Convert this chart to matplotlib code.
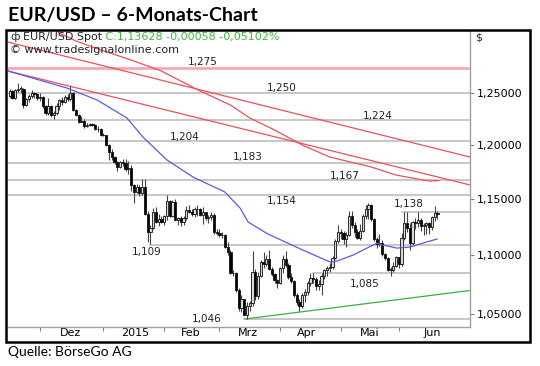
import matplotlib
matplotlib.use('Agg')
import matplotlib.pyplot as plt
from matplotlib.patches import Rectangle
from matplotlib.ticker import FixedLocator, FixedFormatter, NullLocator, NullFormatter

# ------------------- data: EUR/USD daily bars, 14 Nov 2014 - 19 Jun 2015 -------------------
opens = [1.2475, 1.2525, 1.2450, 1.2535, 1.2545, 1.2545, 1.2390, 1.2440, 1.2470, 1.2505, 1.2495,
         1.2450, 1.2465, 1.2380, 1.2310, 1.2380, 1.2290, 1.2305, 1.2380, 1.2430, 1.2410, 1.2460, 1.2440,
         1.2500, 1.2340, 1.2290, 1.2225, 1.2230, 1.2180, 1.2190, 1.2200, 1.2190, 1.2155, 1.2150,
         1.2100, 1.2095, 1.2000, 1.1935, 1.1890, 1.1840, 1.1795, 1.1840, 1.1835, 1.1775, 1.1780, 1.1630,
         1.1565, 1.1610, 1.1550, 1.1605, 1.1365, 1.1205, 1.1240, 1.1380, 1.1290, 1.1320,
         1.1290, 1.1345, 1.1480, 1.1345, 1.1475, 1.1315, 1.1325, 1.1290, 1.1330, 1.1400, 1.1385, 1.1365,
         1.1410, 1.1405, 1.1355, 1.1380, 1.1330, 1.1340, 1.1360, 1.1200,
         1.1195, 1.1180, 1.1175, 1.1075, 1.1030, 1.0845, 1.0850, 1.0700, 1.0550, 1.0630, 1.0495, 1.0570,
         1.0595, 1.0860, 1.0655, 1.0820, 1.0940, 1.0925, 1.0965, 1.0885, 1.0840, 1.0790,
         1.0760, 1.0890, 1.0970, 1.0920, 1.0810, 1.0780, 1.0660, 1.0600, 1.0565, 1.0665, 1.0685, 1.0765,
         1.0805, 1.0800, 1.0735, 1.0750, 1.0825, 1.0870, 1.0890, 1.0900, 1.0980, 1.1125,
         1.1200, 1.1195, 1.1145, 1.1180, 1.1345, 1.1270, 1.1200, 1.1155, 1.1215, 1.1350, 1.1405, 1.1450,
         1.1320, 1.1140, 1.1095, 1.1105, 1.1010, 1.0980, 1.0875, 1.0875, 1.0905,
         1.0985, 1.0925, 1.1150, 1.1280, 1.1240, 1.1110, 1.1290, 1.1285, 1.1310, 1.1255, 1.1265, 1.1280,
         1.1245, 1.1340, 1.1369]
highs = [1.2545, 1.2530, 1.2545, 1.2600, 1.2575, 1.2550, 1.2450, 1.2490, 1.2530, 1.2510, 1.2500,
         1.2500, 1.2470, 1.2390, 1.2455, 1.2390, 1.2325, 1.2400, 1.2445, 1.2465, 1.2485, 1.2490, 1.2570,
         1.2515, 1.2350, 1.2300, 1.2275, 1.2245, 1.2215, 1.2210, 1.2215, 1.2200, 1.2180, 1.2165,
         1.2110, 1.2100, 1.2010, 1.1960, 1.1900, 1.1850, 1.1850, 1.1865, 1.1870, 1.1850, 1.1810, 1.1640,
         1.1640, 1.1630, 1.1680, 1.1680, 1.1390, 1.1270, 1.1420, 1.1425, 1.1365, 1.1350,
         1.1360, 1.1535, 1.1490, 1.1495, 1.1500, 1.1340, 1.1345, 1.1345, 1.1440, 1.1450, 1.1410, 1.1430,
         1.1445, 1.1415, 1.1430, 1.1385, 1.1360, 1.1385, 1.1375, 1.1235,
         1.1230, 1.1200, 1.1185, 1.1115, 1.1045, 1.0870, 1.0860, 1.0720, 1.0665, 1.0630, 1.0600, 1.0610,
         1.1040, 1.0885, 1.0855, 1.0960, 1.1030, 1.1000, 1.1050, 1.0900, 1.0850, 1.0800,
         1.0900, 1.1000, 1.1035, 1.0935, 1.0850, 1.0790, 1.0680, 1.0625, 1.0680, 1.0710, 1.0780, 1.0850,
         1.0845, 1.0815, 1.0790, 1.0850, 1.0885, 1.0910, 1.0930, 1.0990, 1.1145, 1.1270,
         1.1230, 1.1215, 1.1200, 1.1390, 1.1390, 1.1290, 1.1230, 1.1275, 1.1365, 1.1445, 1.1467, 1.1455,
         1.1325, 1.1160, 1.1190, 1.1130, 1.1020, 1.0985, 1.0900, 1.0940, 1.0990,
         1.0985, 1.1195, 1.1380, 1.1385, 1.1280, 1.1300, 1.1330, 1.1385, 1.1325, 1.1280, 1.1290, 1.1295,
         1.1350, 1.1435, 1.1390]
lows = [1.2455, 1.2440, 1.2440, 1.2510, 1.2500, 1.2360, 1.2380, 1.2410, 1.2450, 1.2455, 1.2430,
        1.2420, 1.2360, 1.2290, 1.2290, 1.2270, 1.2245, 1.2290, 1.2340, 1.2390, 1.2400, 1.2420, 1.2420,
        1.2330, 1.2280, 1.2215, 1.2220, 1.2165, 1.2170, 1.2180, 1.2180, 1.2140, 1.2120, 1.2090,
        1.2085, 1.1995, 1.1860, 1.1860, 1.1820, 1.1755, 1.1780, 1.1800, 1.1755, 1.1725, 1.1570, 1.1460,
        1.1555, 1.1530, 1.1540, 1.1360, 1.1115, 1.1100, 1.1230, 1.1280, 1.1260, 1.1280,
        1.1270, 1.1315, 1.1340, 1.1340, 1.1310, 1.1270, 1.1260, 1.1270, 1.1310, 1.1370, 1.1345, 1.1335,
        1.1350, 1.1345, 1.1275, 1.1310, 1.1280, 1.1310, 1.1190, 1.1175,
        1.1160, 1.1150, 1.1065, 1.1000, 1.0840, 1.0820, 1.0690, 1.0530, 1.0520, 1.0490, 1.0460, 1.0530,
        1.0570, 1.0615, 1.0625, 1.0810, 1.0890, 1.0910, 1.0870, 1.0820, 1.0760, 1.0720,
        1.0750, 1.0850, 1.0900, 1.0800, 1.0760, 1.0640, 1.0580, 1.0525, 1.0550, 1.0600, 1.0660, 1.0735,
        1.0760, 1.0705, 1.0700, 1.0665, 1.0800, 1.0820, 1.0855, 1.0880, 1.0970, 1.1110,
        1.1140, 1.1100, 1.1070, 1.1170, 1.1240, 1.1160, 1.1140, 1.1135, 1.1200, 1.1320, 1.1320, 1.1300,
        1.1125, 1.1060, 1.1085, 1.0990, 1.0960, 1.0865, 1.0820, 1.0860, 1.0900,
        1.0890, 1.0905, 1.1130, 1.1200, 1.1050, 1.1090, 1.1230, 1.1250, 1.1210, 1.1180, 1.1190, 1.1190,
        1.1220, 1.1300, 1.1320]
closes = [1.2525, 1.2450, 1.2535, 1.2545, 1.2545, 1.2390, 1.2440, 1.2470, 1.2505, 1.2495, 1.2450,
          1.2465, 1.2380, 1.2310, 1.2380, 1.2290, 1.2305, 1.2380, 1.2430, 1.2410, 1.2460, 1.2440, 1.2500,
          1.2340, 1.2290, 1.2225, 1.2230, 1.2180, 1.2190, 1.2200, 1.2190, 1.2155, 1.2150, 1.2100,
          1.2095, 1.2000, 1.1935, 1.1890, 1.1840, 1.1795, 1.1840, 1.1835, 1.1775, 1.1780, 1.1630, 1.1565,
          1.1610, 1.1550, 1.1605, 1.1365, 1.1205, 1.1240, 1.1380, 1.1290, 1.1320, 1.1290,
          1.1345, 1.1480, 1.1345, 1.1475, 1.1315, 1.1325, 1.1290, 1.1330, 1.1400, 1.1385, 1.1365, 1.1410,
          1.1405, 1.1355, 1.1380, 1.1330, 1.1340, 1.1360, 1.1200, 1.1195,
          1.1180, 1.1175, 1.1075, 1.1030, 1.0845, 1.0850, 1.0700, 1.0550, 1.0630, 1.0495, 1.0570, 1.0595,
          1.0860, 1.0655, 1.0820, 1.0940, 1.0925, 1.0965, 1.0885, 1.0840, 1.0790, 1.0760,
          1.0890, 1.0970, 1.0920, 1.0810, 1.0780, 1.0660, 1.0600, 1.0565, 1.0665, 1.0685, 1.0765, 1.0805,
          1.0800, 1.0735, 1.0750, 1.0825, 1.0870, 1.0890, 1.0900, 1.0980, 1.1125, 1.1200,
          1.1195, 1.1145, 1.1180, 1.1345, 1.1270, 1.1200, 1.1155, 1.1215, 1.1350, 1.1405, 1.1450, 1.1320,
          1.1140, 1.1095, 1.1105, 1.1010, 1.0980, 1.0875, 1.0875, 1.0905, 1.0985,
          1.0925, 1.1150, 1.1280, 1.1240, 1.1110, 1.1290, 1.1285, 1.1310, 1.1255, 1.1265, 1.1280, 1.1245,
          1.1340, 1.1369, 1.1363]

# moving averages (bar index / price)
ma50_x = [-0.6, 20.8, 31.7, 42.5, 48.3, 57.0, 66.4, 78.0, 83.5, 86.4, 93.6, 106.3, 116.1, 118.6,
          124.4, 133.1, 135.3, 140.3, 145.1, 149.8, 154.8]
ma50_y = [1.2722, 1.2552, 1.2434, 1.2259, 1.2076, 1.1859, 1.1701, 1.1563, 1.1418, 1.1293, 1.1186,
          1.1045, 1.0942, 1.0950, 1.1002, 1.1107, 1.1089, 1.1063, 1.1072, 1.1107, 1.1142]
ma200_x = [8, 18, 24, 33, 44, 55, 69, 80, 87, 96, 106, 116, 131, 140, 152, 155.5]
ma200_y = [1.3320, 1.3109, 1.3027, 1.2935, 1.2833, 1.2722, 1.2523, 1.2385, 1.2259, 1.2143,
           1.2000, 1.1887, 1.1794, 1.1719, 1.1664, 1.1668]

# trend lines
trend_hi_x = [-0.6, 166.8]
trend_hi_y = [1.3016, 1.1887]
trend_mid_x = [-0.6, 166.8]
trend_mid_y = [1.2722, 1.1628]
trend_up_x = [85.3, 166.8]
trend_up_y = [1.0461, 1.0699]

# horizontal levels
levels = [1.275, 1.250, 1.224, 1.204, 1.183, 1.167, 1.154, 1.138, 1.109, 1.085, 1.046]
level_start = [-0.6, -0.6, -0.6, -0.6, -0.6, -0.6, -0.6, 142, 51, 110, 85]
level_names = ['1,275', '1,250', '1,224', '1,204', '1,183', '1,167', '1,154', '1,138',
               '1,109', '1,085', '1,046']

month_starts = [11, 34, 56, 76, 98, 120, 141]
month_label_pos = [22, 45.5, 65.5, 86.5, 107.5, 130.5, 153]
month_labels = ['Dez', '2015', 'Feb', 'Mrz', 'Apr', 'Mai', 'Jun']
y_ticks = [1.05, 1.10, 1.15, 1.20, 1.25]

# ------------------- figure -------------------
W, H = 540, 366
fig = plt.figure(figsize=(W / 100, H / 100), dpi=100)
ax = fig.add_axes([8 / W, 1 - 327 / H, 462 / W, 296 / H])
ax.set_yscale('log')
ax.set_xlim(-0.6, 166.8)
ax.set_ylim(1.0395, 1.3130)

# levels
label_x = [69.9, 98.7, 133.5, 63.5, 86.4, 121.5, 98.7, 144.7, 49.8, 128.7, 71.5]
label_dy = [6, 5, 3.5, 4, 6, 4, -6, 8, -7, -11, 0]   # px above line (label centre)
for lv, x0, name, lx, dy in zip(levels, level_start, level_names, label_x, label_dy):
    if lv == 1.275:
        ax.plot([x0, 166.8], [lv, lv], color='#f6a9b0', lw=2.0, zorder=1)
    else:
        ax.plot([x0, 166.8], [lv, lv], color='#b8b8b8', lw=1.1, zorder=1)
    ax.annotate(name, xy=(lx, lv), xytext=(0, dy * 0.72), textcoords='offset points',
                ha='center', va='center', fontsize=7.5, color='#222222', zorder=6)

# trend lines / averages
ax.plot(trend_hi_x, trend_hi_y, color='#e8505c', lw=0.9, zorder=2)
ax.plot(trend_mid_x, trend_mid_y, color='#e8505c', lw=0.9, zorder=2)
ax.plot(ma200_x, ma200_y, color='#e8505c', lw=0.9, zorder=2)
ax.plot(trend_up_x, trend_up_y, color='#3fae3f', lw=0.9, zorder=2)
ax.plot(ma50_x, ma50_y, color='#5a5ae0', lw=0.9, zorder=5)

# candles
xs = list(range(len(closes)))
ax.vlines(xs, lows, highs, color='#444444', lw=0.8, zorder=3)
bottoms = [min(o, c) for o, c in zip(opens, closes)]
heights = [max(abs(c - o), 0.0004) for o, c in zip(opens, closes)]
faces = ['#d8d8d8' if c >= o else 'black' for o, c in zip(opens, closes)]
ax.bar(xs, heights, bottom=bottoms, width=0.8, color=faces, edgecolor='#111111',
       linewidth=0.6, zorder=4)

# axes styling
for s in ('left', 'top'):
    ax.spines[s].set_visible(False)
for s in ('right', 'bottom'):
    ax.spines[s].set_color('#a0a0a0')
    ax.spines[s].set_linewidth(1.0)

ax.yaxis.tick_right()
ax.yaxis.set_major_locator(FixedLocator(y_ticks))
ax.yaxis.set_major_formatter(FixedFormatter([f'{v:.5f}'.replace('.', ',') for v in y_ticks]))
ax.yaxis.set_minor_locator(NullLocator())
ax.yaxis.set_minor_formatter(NullFormatter())
ax.tick_params(axis='y', which='major', direction='out', length=3, width=0.8, color='#808080',
               labelsize=8, pad=2)

ax.xaxis.set_major_locator(FixedLocator(month_starts))
ax.xaxis.set_major_formatter(NullFormatter())
ax.xaxis.set_minor_locator(FixedLocator(month_label_pos))
ax.xaxis.set_minor_formatter(FixedFormatter(month_labels))
ax.tick_params(axis='x', which='major', direction='out', length=3, width=0.8, color='#808080')
ax.tick_params(axis='x', which='minor', length=0, labelsize=8, pad=1)

# legend lines in the plot
ax.text(0.006, 0.979, '\u0444', transform=ax.transAxes, va='center', ha='left', fontsize=8,
        color='#333333')
t = ax.text(0.032, 0.979, 'EUR/USD Spot', transform=ax.transAxes, va='center', ha='left',
            fontsize=8, color='#222222')
ax.annotate(' C:1,13628 -0,00058 -0,05102%', xy=(1, 0), xycoords=t, va='bottom', ha='left',
            fontsize=8, color='#3cb83c')
ax.text(0.004, 0.936, '\u00a9 www.tradesignalonline.com', transform=ax.transAxes, va='center',
        ha='left', fontsize=8, color='#222222')

fig.text(475 / W, 1 - 38 / H, '$', fontsize=8, va='center', ha='left', color='#222222')

# outer frame
fig.add_artist(Rectangle((6 / W, 1 - 342 / H), 524 / W, 312 / H, transform=fig.transFigure,
                         fill=False, edgecolor='black', lw=1.8))

fig.text(8 / W, 1 - 15 / H, 'EUR/USD \u2013 6-Monats-Chart', fontsize=14, fontweight='bold',
         family='Lato', va='center', ha='left')
fig.text(8 / W, 1 - 352 / H, 'Quelle: BörseGo AG', fontsize=10, family='Lato',
         va='center', ha='left')

fig.savefig('out.png', dpi=100)
